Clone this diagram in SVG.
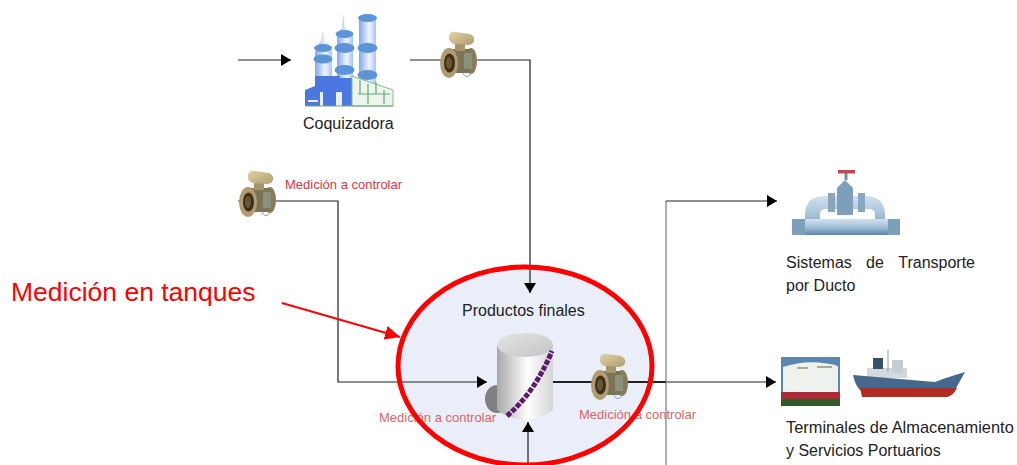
<svg xmlns="http://www.w3.org/2000/svg" width="1017" height="465" viewBox="0 0 1017 465">
<style>
text{font-family:"Liberation Sans",Arial,sans-serif}
.lbl{font-size:16px;fill:#222}
.red{font-size:13px;fill:#e2353f}
.redp{font-size:13px;fill:#d9656b}
.ln{fill:none;stroke:#222;stroke-width:1.2}
.hv{fill:none;stroke:#222;stroke-width:2}
.lnb{fill:none;stroke:#777;stroke-width:1.2}
</style>
<defs>
<marker id="arr" markerUnits="userSpaceOnUse" markerWidth="11" markerHeight="12" refX="10" refY="6" orient="auto"><path d="M0 0L10 6L0 12z" fill="#000"/></marker>
<marker id="rarr" markerUnits="userSpaceOnUse" markerWidth="16" markerHeight="14" refX="15" refY="7" orient="auto"><path d="M0 0L15 7L0 14z" fill="#f00"/></marker>
<linearGradient id="tw" x1="0" x2="1" y1="0" y2="0"><stop offset="0" stop-color="#7fa8ee"/><stop offset=".6" stop-color="#f0f4ff"/><stop offset="1" stop-color="#a8c4f4"/></linearGradient>
<linearGradient id="tank" x1="0" x2="1" y1="0" y2="0"><stop offset="0" stop-color="#a8a8a8"/><stop offset=".55" stop-color="#fff"/><stop offset="1" stop-color="#d4d4d4"/></linearGradient>
<linearGradient id="tt" x1="0" x2="1" y1="0" y2="1"><stop offset="0" stop-color="#e4e4e4"/><stop offset="1" stop-color="#c4c4c4"/></linearGradient>
<linearGradient id="pipe" x1="0" x2="0" y1="0" y2="1"><stop offset="0" stop-color="#d3e2ee"/><stop offset=".5" stop-color="#a3c0d8"/><stop offset="1" stop-color="#5f86a8"/></linearGradient>
<linearGradient id="met" x1="0" x2="1" y1="0" y2="1"><stop offset="0" stop-color="#e2d3a8"/><stop offset="1" stop-color="#b09c70"/></linearGradient>
<symbol id="meter" width="38" height="47" viewBox="0 0 38 47" overflow="visible">
<ellipse cx="27" cy="41" rx="4" ry="4.500" fill="none" stroke="#7fa5b5" stroke-width="1"/>
<ellipse cx="31" cy="30" rx="6" ry="13" fill="#8a7a58"/>
<rect x="9" y="18" width="21" height="24" fill="#7b7358"/>
<rect x="24" y="22" width="8" height="16" fill="#8b927c"/>
<rect x="15" y="11" width="10" height="9" fill="#a89468"/>
<path d="M9 5Q10 0 16 1L30 3Q35 5 34 10Q33 14 27 14L14 13Q8 11 9 5z" fill="url(#met)"/>
<ellipse cx="9" cy="32" rx="9" ry="15" fill="#b09c70"/>
<ellipse cx="9.500" cy="32" rx="5.500" ry="9.500" fill="#3d2f1a"/>
<ellipse cx="9" cy="32" rx="3" ry="6" fill="#6a5632"/>
</symbol>
</defs>
<rect width="1017" height="465" fill="#fff"/>

<g id="oval-fill"><ellipse cx="525" cy="366" rx="127" ry="99" fill="#e9eef8"/></g>

<g id="connectors">
<path class="ln" d="M238 60H291" marker-end="url(#arr)"/>
<path class="ln" d="M410 60H530V293" marker-end="url(#arr)"/>
<path class="ln" d="M238 201H338V382H487" marker-end="url(#arr)"/>
<path class="ln" d="M528 465V422" marker-end="url(#arr)"/>
<path class="hv" d="M553 382H666"/>
<path class="ln" d="M666 382H776" marker-end="url(#arr)"/>
<path class="lnb" d="M666 465V201"/>
<path class="ln" d="M666 201H777" marker-end="url(#arr)"/>
</g>

<g id="coquizadora">
<g fill="url(#tw)">
<path d="M315 80V52Q318 44 321 41L323 30L325 41Q330 44 332 52V80z"/>
<path d="M337 100V36Q340 30 342 28L343 13L345 28Q350 30 353 36V100z"/>
<path d="M359 100V17H376V100z"/>
</g>
<g fill="#5c94d8">
<ellipse cx="323" cy="48" rx="9" ry="4"/>
<ellipse cx="323" cy="59" rx="9.500" ry="4.500"/>
<ellipse cx="344.500" cy="34" rx="9" ry="4"/>
<ellipse cx="344.500" cy="48" rx="10" ry="5"/>
<ellipse cx="344.500" cy="70" rx="10" ry="5"/>
<ellipse cx="367.500" cy="18" rx="9.500" ry="4"/>
<ellipse cx="367.500" cy="48" rx="10" ry="5"/>
<ellipse cx="367.500" cy="75" rx="10" ry="5"/>
</g>
<path d="M305 106V90L315 86V76H340V78H352V106z" fill="#4a78e0"/>
<path d="M336 92H342V106H336zM320 92H323V106H320zM308 100H318V102H308z" fill="#eaf0ff"/>
<path d="M352 76L393 90V106H352z" fill="#eef3ee" stroke="#7cc08a" stroke-width="1"/>
<path d="M360 80V94M368 84V104M376 82V94M384 90V104M358 94H390" fill="none" stroke="#58b070" stroke-width="1.200"/>
<path d="M305 106H393" stroke="#6aa97c" stroke-width="1"/>
<text class="lbl" x="303" y="129">Coquizadora</text>
</g>

<g id="medidor-1"><use href="#meter" x="440" y="31"/></g>

<g id="medidor-2"><use href="#meter" x="239" y="170"/><text class="red" x="285" y="189">Medición a controlar</text></g>

<g id="tanque">
<ellipse cx="497" cy="399" rx="12" ry="14" fill="#808080"/>
<path d="M497 345V410Q525 430 553 410V345z" fill="url(#tank)"/>
<ellipse cx="525" cy="345" rx="28" ry="12" fill="url(#tt)"/>
<path d="M507 416Q535 392 552 351" stroke="#5a1a6e" stroke-width="5" stroke-dasharray="5 1.500" fill="none"/>
<text class="lbl" x="462" y="316">Productos finales</text>
<text class="redp" x="379" y="422">Medición a controlar</text>
</g>

<g id="medidor-3"><use href="#meter" x="591" y="353"/><text class="redp" x="579" y="419">Medición a controlar</text></g>

<g id="oval"><ellipse cx="525" cy="366" rx="127" ry="99" fill="none" stroke="#f00" stroke-width="5"/></g>

<g id="medicion-tanques">
<text x="11" y="301" font-size="26.500" fill="#f00">Medición en tanques</text>
<path d="M282 303L400 337" stroke="#f00" stroke-width="2" fill="none" marker-end="url(#rarr)"/>
</g>

<g id="transporte">
<path d="M805 235V215Q805 196 825 196H865Q885 196 885 215V235z" fill="url(#pipe)"/>
<path d="M820 220V214Q820 209 826 209H868Q875 209 875 214V220z" fill="#fff"/>
<rect x="792" y="219" width="108" height="16" fill="url(#pipe)"/>
<path d="M792 219H805V235H792zM888 219H900V235H888z" fill="#7e9fba"/>
<path d="M837 215V188L845 180L853 188V215z" fill="#7e9fba"/>
<rect x="828" y="193" width="7" height="19" fill="#8aa6bc"/>
<rect x="858" y="193" width="7" height="19" fill="#8aa6bc"/>
<path d="M846 180V172" stroke="#6c8fac" stroke-width="3"/>
<rect x="838" y="170" width="17" height="3.500" fill="#c9474a"/>
<text class="lbl" x="786" y="268">Sistemas</text>
<text class="lbl" x="866" y="268">de</text>
<text class="lbl" x="975" y="268" text-anchor="end">Transporte</text>
<text class="lbl" x="786" y="291">por Ducto</text>
</g>

<g id="terminales">
<rect x="781" y="357" width="59" height="49" fill="#5b87ae"/>
<path d="M783 367Q810 358 838 366V392H783z" fill="#eef1ee"/>
<path d="M797 368H808M817 367H832" stroke="#8a9a7a" stroke-width="1.500"/>
<rect x="781" y="392" width="59" height="7" fill="#b02a35"/>
<rect x="781" y="399" width="59" height="7" fill="#2f5a2a"/>
<rect x="867" y="368" width="40" height="10" fill="#d4d9de"/>
<rect x="873" y="358" width="10" height="11" fill="#33506f"/>
<rect x="892" y="360" width="11" height="13" fill="#c4ccd4"/>
<path d="M888 350V372" stroke="#8a9aa8" stroke-width="1"/>
<path d="M853 375L935 382Q945 378 965 372L955 390H860Q855 385 853 375z" fill="#45688c"/>
<path d="M860 388H957Q953 396 947 397H862z" fill="#b12a24"/>
<text class="lbl" x="786" y="433" font-size="16.400" style="font-size:16.400px">Terminales de Almacenamiento</text>
<text class="lbl" x="786" y="456">y Servicios Portuarios</text>
</g>
</svg>
